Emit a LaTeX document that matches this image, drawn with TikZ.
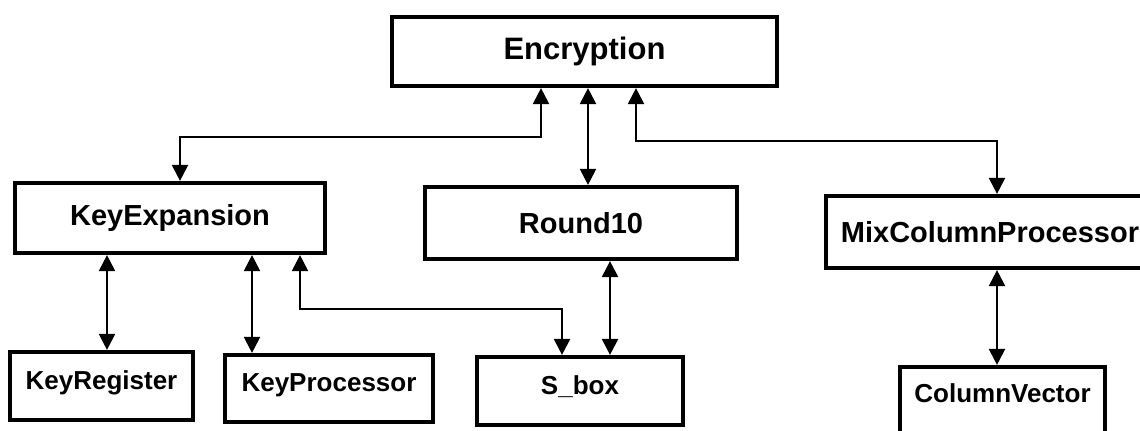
\documentclass[tikz,border=0pt]{standalone}
\usepackage{fontspec}
\setmainfont{Liberation Sans}
\usetikzlibrary{arrows.meta}

\tikzset{
  block/.style={draw, line width=2.1pt, fill=white, inner sep=0pt,
    font=\bfseries\fontsize{14.5}{16}\selectfont},
  topblock/.style={block, font=\bfseries\fontsize{15.5}{17}\selectfont},
  leafblock/.style={block, font=\bfseries\fontsize{13}{15}\selectfont,
    text height=0.75em, text depth=0.45em},
  link/.style={line width=1.1pt, {Triangle[width=8pt,length=8pt]}-{Triangle[width=8pt,length=8pt]}}
}

\begin{document}
\begin{tikzpicture}[x=0.5pt, y=-0.5pt]
  \useasboundingbox (0,0) rectangle (1140,430);
  \clip (0,0) rectangle (1140,430);

  % top level
  \node[topblock, minimum width=192.5pt, minimum height=34.5pt] (enc) at (584.5,51.5) {Encryption};

  % second level
  \node[block, minimum width=155pt, minimum height=35pt] (kexp) at (170,218) {KeyExpansion};
  \node[block, minimum width=156pt, minimum height=36pt] (rnd) at (581,223) {Round10};
  \node[block, minimum width=164pt, minimum height=36pt] (mix) at (990,232) {MixColumnProcessor};

  % third level
  \node[leafblock, minimum width=91.5pt, minimum height=34pt] (kreg) at (101.5,386) {KeyRegister};
  \node[leafblock, minimum width=104pt, minimum height=33.5pt] (kproc) at (329,388.5) {KeyProcessor};
  \node[leafblock, minimum width=103pt, minimum height=34pt] (sbox) at (580,391) {S\_box};
  \node[leafblock, minimum width=102.5pt, minimum height=40pt, text height=0.75em, text depth=1.2em] (cvec) at (1002.5,407) {ColumnVector};

  % Encryption to its submodules
  \draw[link] ([xshift=-21.75pt]enc.south) -- ++(0,49) -| ([xshift=5pt]kexp.north);
  \draw[link] ([xshift=1.75pt]enc.south) coordinate (er) -- (er |- rnd.north);
  \draw[link] ([xshift=25.75pt]enc.south) -- ++(0,53) -| ([xshift=3.5pt]mix.north);

  % KeyExpansion to its submodules
  \draw[link] ([xshift=-31.5pt]kexp.south) coordinate (k1) -- (k1 |- kreg.north);
  \draw[link] ([xshift=41pt]kexp.south) coordinate (k2) -- (k2 |- kproc.north);
  \draw[link] ([xshift=65pt]kexp.south) -- ++(0,54) -| ([xshift=-9pt]sbox.north);

  % Round10 and MixColumnProcessor to theirs
  \draw[link] ([xshift=14.5pt]rnd.south) coordinate (r1) -- (r1 |- sbox.north);
  \draw[link] ([xshift=3.5pt]mix.south) coordinate (m1) -- (m1 |- cvec.north);
\end{tikzpicture}
\end{document}
